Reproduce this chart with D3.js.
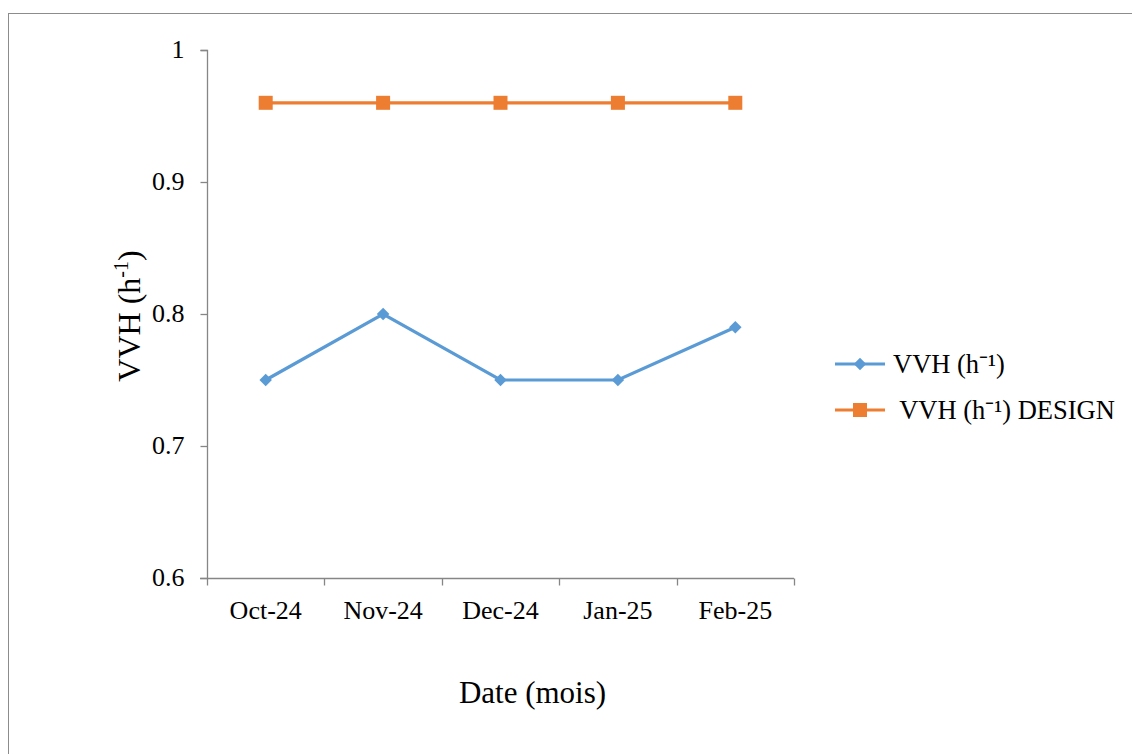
<!DOCTYPE html>
<html>
<head>
<meta charset="utf-8">
<script src="https://cdn.jsdelivr.net/npm/d3@7"></script>
<style>
  html, body { margin: 0; padding: 0; background: #fff; }
  svg { display: block; }
  text { font-family: "Liberation Serif", "Times New Roman", serif; fill: #000; }
</style>
</head>
<body>
<svg id="chart" width="1132" height="754"></svg>
<script>
// Monthly air changes per hour (VVH) measured vs design value
const months = ["Oct-24", "Nov-24", "Dec-24", "Jan-25", "Feb-25"];
const vvhMeasured = [0.75, 0.80, 0.75, 0.75, 0.79];
const vvhDesign = [0.96, 0.96, 0.96, 0.96, 0.96];
const yTicks = [0.6, 0.7, 0.8, 0.9, 1];
const seriesNames = ["VVH (h\u207B\u00B9)", " VVH (h\u207B\u00B9) DESIGN"];

const blue = "#5B9BD5";
const orange = "#ED7D31";
const axisGray = "#868686";

const svg = d3.select("#chart");

// outer chart frame
svg.append("rect")
  .attr("x", 8.5).attr("y", 13.5)
  .attr("width", 1140).attr("height", 760)
  .attr("fill", "none").attr("stroke", "#8c8c8c").attr("stroke-width", 1);

const plot = { left: 207, right: 794, top: 50, bottom: 578 };

const x = d3.scaleBand().domain(months).range([plot.left, plot.right]);
const y = d3.scaleLinear().domain([0.6, 1]).range([plot.bottom, plot.top]);

// y axis
const yAxis = svg.append("g")
  .attr("transform", `translate(${plot.left + 0.5},0)`)
  .call(d3.axisLeft(y).tickValues(yTicks).tickSize(7).tickPadding(16)
    .tickFormat(d => d === 1 ? "1" : d3.format(".1f")(d)));
yAxis.select(".domain").attr("stroke", axisGray).attr("stroke-width", 1.3)
  .attr("d", `M-7,${y(1) + 0.5}H0V${y(0.6) + 0.5}`);
yAxis.selectAll(".tick line").attr("stroke", axisGray).attr("stroke-width", 1.3);
yAxis.selectAll(".tick text").attr("font-size", 26).attr("dy", "0.3em")
  .attr("font-family", "Liberation Serif, serif").attr("fill", "#000");

// x axis with ticks on band boundaries
const xAxis = svg.append("g")
  .attr("transform", `translate(0,${plot.bottom + 0.5})`)
  .call(d3.axisBottom(x).tickSize(0).tickPadding(22));
xAxis.select(".domain").attr("stroke", axisGray).attr("stroke-width", 1.3)
  .attr("d", `M${plot.left - 7},0H${plot.right}`);
xAxis.selectAll(".tick text").attr("font-size", 26)
  .attr("font-family", "Liberation Serif, serif").attr("fill", "#000");
const bounds = months.map(m => x(m)).concat([x(months[months.length - 1]) + x.bandwidth()]);
xAxis.selectAll(".bound").data(bounds).enter().append("line")
  .attr("x1", d => Math.round(d) + 0.5).attr("x2", d => Math.round(d) + 0.5)
  .attr("y1", 0).attr("y2", 7)
  .attr("stroke", axisGray).attr("stroke-width", 1.3);

const cx = m => x(m) + x.bandwidth() / 2;

const line = d3.line().x((d, i) => cx(months[i])).y(d => y(d));

// design series
svg.append("path").datum(vvhDesign)
  .attr("d", line).attr("fill", "none")
  .attr("stroke", orange).attr("stroke-width", 3.2);
svg.selectAll(".sq").data(vvhDesign).enter().append("rect")
  .attr("x", (d, i) => cx(months[i]) - 7).attr("y", d => y(d) - 7)
  .attr("width", 14).attr("height", 14).attr("fill", orange);

// measured series
svg.append("path").datum(vvhMeasured)
  .attr("d", line).attr("fill", "none")
  .attr("stroke", blue).attr("stroke-width", 3.2);
const diamond = d3.symbol().type(d3.symbolDiamond2).size(100);
svg.selectAll(".dm").data(vvhMeasured).enter().append("path")
  .attr("d", diamond)
  .attr("transform", (d, i) => `translate(${cx(months[i])},${y(d)})`)
  .attr("fill", blue);

// axis titles
svg.append("text")
  .attr("x", (plot.left + plot.right) / 2 + 32).attr("y", 703)
  .attr("text-anchor", "middle").attr("font-size", 31)
  .text("Date (mois)");

const yTitle = svg.append("text")
  .attr("transform", `translate(140,${(plot.top + plot.bottom) / 2 + 2}) rotate(-90)`)
  .attr("text-anchor", "middle").attr("font-size", 32);
yTitle.append("tspan").text("VVH (h");
yTitle.append("tspan").attr("font-size", 20).attr("dy", -12).text("-1");
yTitle.append("tspan").attr("dy", 12).text(")");

// legend
const legend = svg.append("g");
const legendRows = [
  { name: seriesNames[0], color: blue, shape: "diamond", y: 364 },
  { name: seriesNames[1], color: orange, shape: "square", y: 410 }
];
legendRows.forEach(r => {
  legend.append("line")
    .attr("x1", 835).attr("x2", 885).attr("y1", r.y).attr("y2", r.y)
    .attr("stroke", r.color).attr("stroke-width", 3.2);
  if (r.shape === "square") {
    legend.append("rect").attr("x", 853).attr("y", r.y - 7)
      .attr("width", 14).attr("height", 14).attr("fill", r.color);
  } else {
    legend.append("path").attr("d", diamond)
      .attr("transform", `translate(860,${r.y})`).attr("fill", r.color);
  }
  legend.append("text")
    .attr("x", 893).attr("y", r.y + 9)
    .attr("font-size", 26.5).attr("xml:space", "preserve")
    .style("white-space", "pre")
    .text(r.name);
});
</script>
</body>
</html>
